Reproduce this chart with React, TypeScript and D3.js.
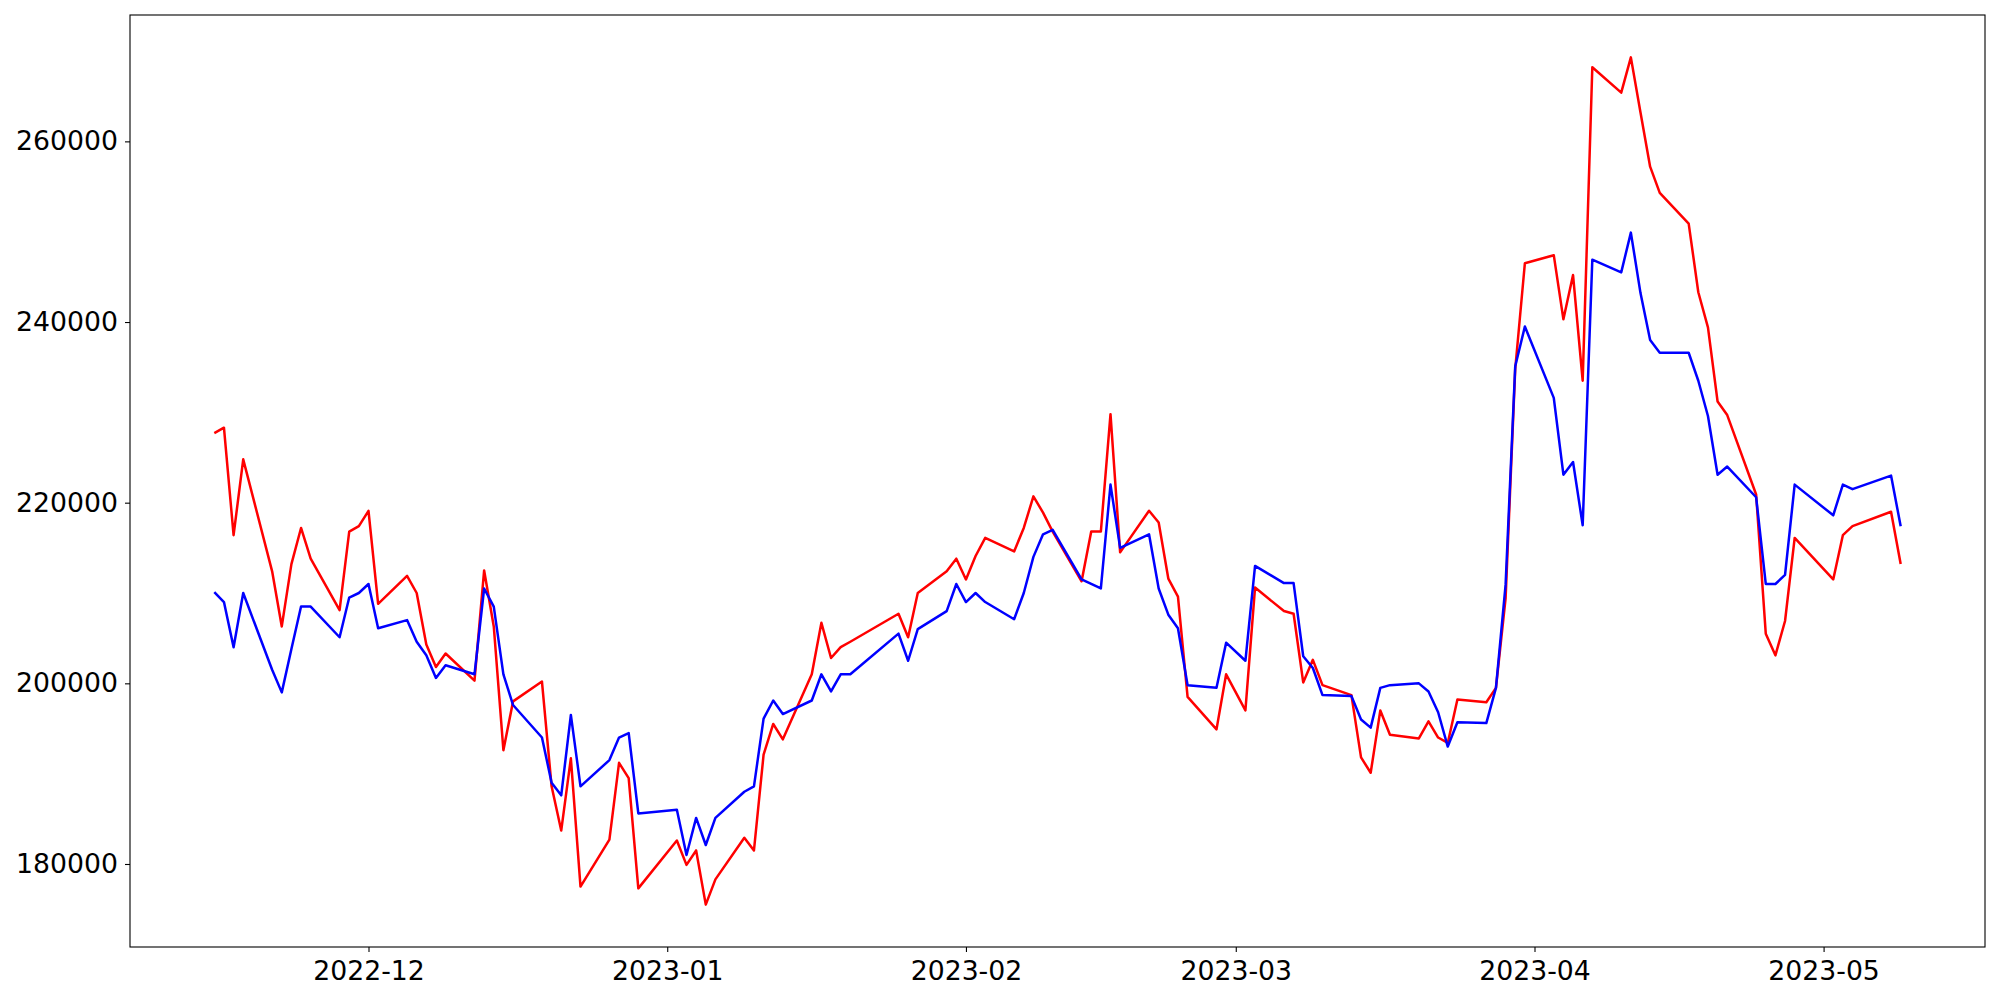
import React, { useEffect, useRef } from "react";
import * as d3 from "d3";

const dates: string[] = [
  "2022-11-15","2022-11-16","2022-11-17","2022-11-18","2022-11-21","2022-11-22","2022-11-23","2022-11-24","2022-11-25",
  "2022-11-28","2022-11-29","2022-11-30","2022-12-01","2022-12-02","2022-12-05","2022-12-06","2022-12-07","2022-12-08",
  "2022-12-09","2022-12-12","2022-12-13","2022-12-14","2022-12-15","2022-12-16","2022-12-19","2022-12-20","2022-12-21",
  "2022-12-22","2022-12-23","2022-12-26","2022-12-27","2022-12-28","2022-12-29","2023-01-02","2023-01-03","2023-01-04",
  "2023-01-05","2023-01-06","2023-01-09","2023-01-10","2023-01-11","2023-01-12","2023-01-13","2023-01-16","2023-01-17",
  "2023-01-18","2023-01-19","2023-01-20","2023-01-25","2023-01-26","2023-01-27","2023-01-30","2023-01-31","2023-02-01",
  "2023-02-02","2023-02-03","2023-02-06","2023-02-07","2023-02-08","2023-02-09","2023-02-10","2023-02-13","2023-02-14",
  "2023-02-15","2023-02-16","2023-02-17","2023-02-20","2023-02-21","2023-02-22","2023-02-23","2023-02-24","2023-02-27",
  "2023-02-28","2023-03-02","2023-03-03","2023-03-06","2023-03-07","2023-03-08","2023-03-09","2023-03-10","2023-03-13",
  "2023-03-14","2023-03-15","2023-03-16","2023-03-17","2023-03-20","2023-03-21","2023-03-22","2023-03-23","2023-03-24",
  "2023-03-27","2023-03-28","2023-03-29","2023-03-30","2023-03-31","2023-04-03","2023-04-04","2023-04-05","2023-04-06",
  "2023-04-07","2023-04-10","2023-04-11","2023-04-12","2023-04-13","2023-04-14","2023-04-17","2023-04-18","2023-04-19",
  "2023-04-20","2023-04-21","2023-04-24","2023-04-25","2023-04-26","2023-04-27","2023-04-28","2023-05-02","2023-05-03",
  "2023-05-04","2023-05-08","2023-05-09",
];

const redValues: number[] = [
  227700, 228300, 216400, 224800, 212400, 206300, 213200, 217200, 213800,
  208100, 216800, 217400, 219100, 208800, 211900, 210000, 204300, 201800,
  203300, 200300, 212500, 206300, 192600, 198000, 200200, 188600, 183700,
  191700, 177500, 182700, 191200, 189500, 177300, 182600, 179900, 181500,
  175500, 178300, 182900, 181500, 192100, 195500, 193800, 201000, 206700,
  202800, 204000, 204600, 207700, 205100, 210000, 212400, 213800, 211500,
  214100, 216100, 214600, 217200, 220700, 218900, 216800, 211300, 216800,
  216800, 229800, 214500, 219100, 217800, 211600, 209600, 198500, 194900,
  201000, 197000, 210600, 208000, 207700, 200100, 202600, 199800, 198700,
  191800, 190100, 197000, 194300, 193900, 195800, 194000, 193400, 198200,
  197900, 199500, 209400, 234800, 246500, 247400, 240300, 245200, 233500,
  268200, 265400, 269300, 263200, 257200, 254300, 250900, 243300, 239400,
  231200, 229700, 220900, 205500, 203100, 206900, 216100, 211500, 216400,
  217400, 219000, 213200,
];

const blueValues: number[] = [
  210100, 209000, 204000, 210000, 201500, 199000, 203800, 208500, 208500,
  205100, 209500, 210000, 211000, 206100, 207000, 204600, 203100, 200600,
  202000, 201000, 210500, 208500, 201000, 197600, 194000, 189000, 187600,
  196500, 188600, 191500, 194000, 194500, 185600, 186000, 181000, 185100,
  182100, 185100, 188000, 188600, 196100, 198100, 196600, 198100, 201000,
  199100, 201000, 201000, 205500, 202500, 206000, 208000, 211000, 209000,
  210000, 209000, 207100, 210000, 214000, 216500, 217000, 211500, 211000,
  210500, 222000, 215000, 216500, 210500, 207600, 206100, 199800, 199500,
  204500, 202500, 213000, 211100, 211100, 203000, 201700, 198700, 198600,
  196000, 195100, 199500, 199800, 200000, 199100, 196800, 193000, 195700,
  195600, 199500, 210900, 235100, 239500, 231600, 223100, 224500, 217500,
  246900, 245500, 249900, 243200, 238000, 236600, 236600, 233500, 229600,
  223100, 224000, 220600, 211000, 211000, 212000, 222000, 218600, 222000,
  221500, 223000, 217400,
];

const yTickValues: number[] = [180000, 200000, 220000, 240000, 260000];
const xTickLabels: string[] = ["2022-12", "2023-01", "2023-02", "2023-03", "2023-04", "2023-05"];

const W = 2000;
const H = 1000;
const margin = { left: 130, right: 15, top: 15, bottom: 53 };

export default function App() {
  const ref = useRef<SVGSVGElement | null>(null);

  useEffect(() => {
    const svg = d3.select(ref.current);
    svg.selectAll("*").remove();

    const parse = d3.utcParse("%Y-%m-%d");
    const parsed = dates.map((d) => parse(d) as Date);
    const rows = parsed.map((d, i) => ({ date: d, red: redValues[i], blue: blueValues[i] }));

    const x0 = +parsed[0];
    const x1 = +parsed[parsed.length - 1];
    const xm = (x1 - x0) * 0.05;
    const allVals = redValues.concat(blueValues);
    const y0 = d3.min(allVals) as number;
    const y1 = d3.max(allVals) as number;
    const ym = (y1 - y0) * 0.05;

    const x = d3
      .scaleUtc()
      .domain([new Date(x0 - xm), new Date(x1 + xm)])
      .range([margin.left, W - margin.right]);
    const y = d3
      .scaleLinear()
      .domain([y0 - ym, y1 + ym])
      .range([H - margin.bottom, margin.top]);

    const font = "'DejaVu Sans', sans-serif";

    const line = (key: "red" | "blue") =>
      d3
        .line<{ date: Date; red: number; blue: number }>()
        .x((d) => x(d.date))
        .y((d) => y(d[key]));

    svg
      .append("path")
      .datum(rows)
      .attr("fill", "none")
      .attr("stroke", "#ff0000")
      .attr("stroke-width", 2.5)
      .attr("stroke-linejoin", "round")
      .attr("d", line("red"));

    svg
      .append("path")
      .datum(rows)
      .attr("fill", "none")
      .attr("stroke", "#0000ff")
      .attr("stroke-width", 2.5)
      .attr("stroke-linejoin", "round")
      .attr("d", line("blue"));

    const xTicks = xTickLabels.map((s) => d3.utcParse("%Y-%m")(s) as Date);
    const xAxis = d3
      .axisBottom(x)
      .tickValues(xTicks)
      .tickFormat((d, i) => xTickLabels[i])
      .tickSizeOuter(0)
      .tickSize(5)
      .tickPadding(9);
    const gx = svg
      .append("g")
      .attr("transform", `translate(0,${H - margin.bottom})`)
      .call(xAxis as any);
    gx.select(".domain").remove();
    gx.selectAll("line").attr("stroke", "#000").attr("stroke-width", 1.1);
    gx.selectAll("text").attr("font-family", font).attr("font-size", 26.7).attr("fill", "#000");

    const yAxis = d3
      .axisLeft(y)
      .tickValues(yTickValues)
      .tickFormat((d) => String(d))
      .tickSizeOuter(0)
      .tickSize(5)
      .tickPadding(7);
    const gy = svg
      .append("g")
      .attr("transform", `translate(${margin.left},0)`)
      .call(yAxis as any);
    gy.select(".domain").remove();
    gy.selectAll("line").attr("stroke", "#000").attr("stroke-width", 1.1);
    gy.selectAll("text").attr("font-family", font).attr("font-size", 26.7).attr("fill", "#000");

    svg
      .append("rect")
      .attr("x", margin.left)
      .attr("y", margin.top)
      .attr("width", W - margin.left - margin.right)
      .attr("height", H - margin.top - margin.bottom)
      .attr("fill", "none")
      .attr("stroke", "#000")
      .attr("stroke-width", 1.1);
  }, []);

  return (
    <svg
      ref={ref}
      width={W}
      height={H}
      style={{ position: "absolute", left: 0, top: 0, background: "#fff" }}
    />
  );
}
